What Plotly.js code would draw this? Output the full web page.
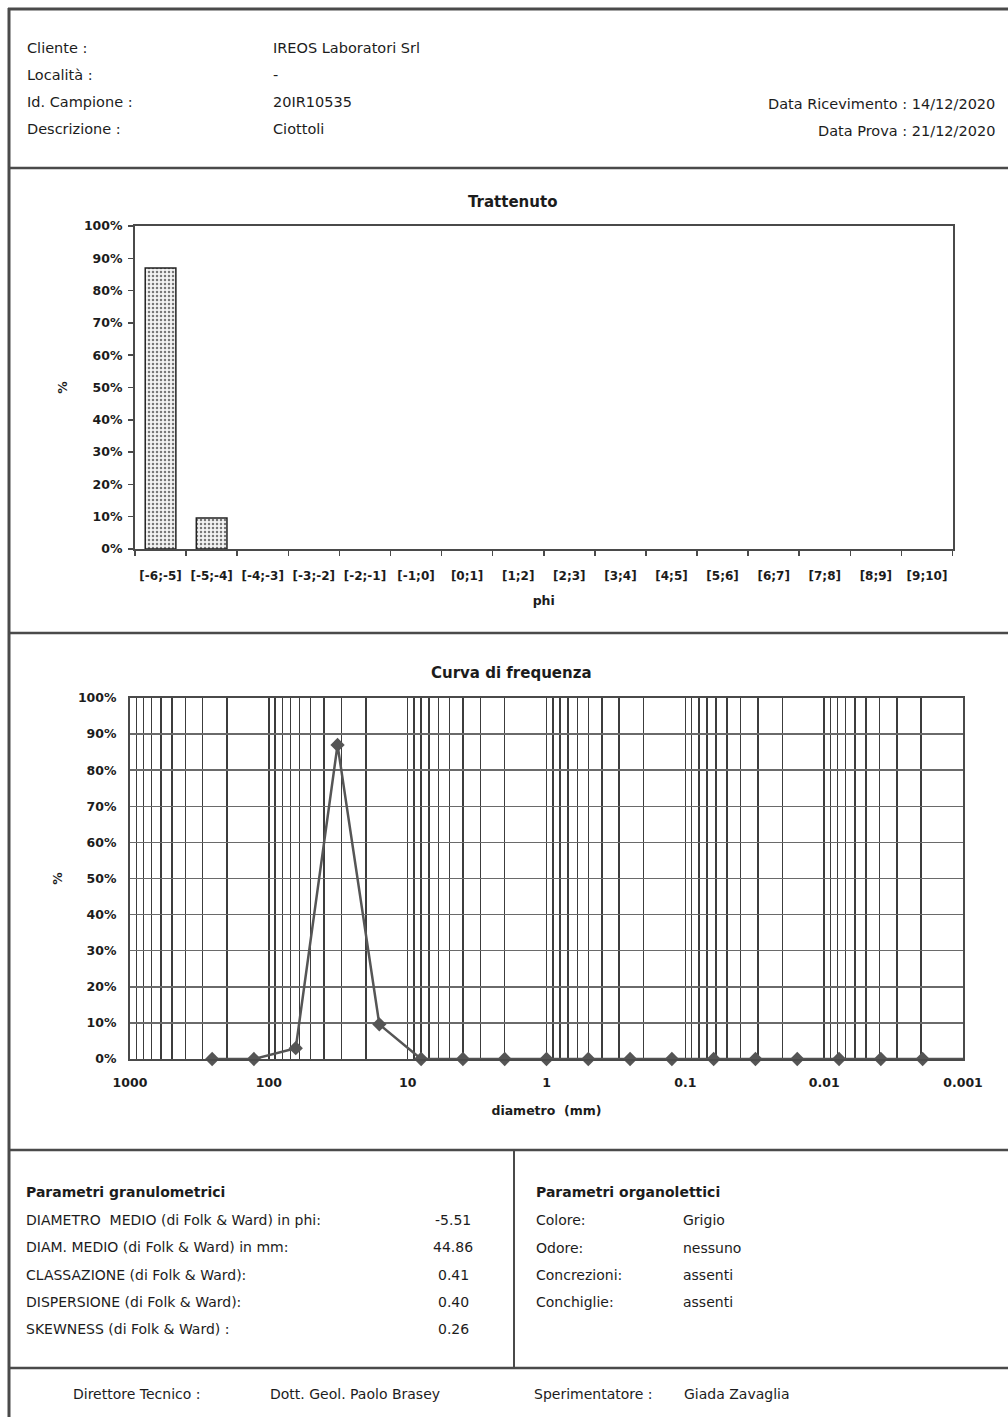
<!DOCTYPE html>
<html>
<head>
<meta charset="utf-8">
<script src="https://cdn.plot.ly/plotly-3.0.1.min.js"></script>
<style>
html,body{margin:0;padding:0;background:#fff;}
#chart{width:1008px;height:1417px;}
</style>
</head>
<body>
<div id="chart"></div>
<script>
// ---- data ----
const phiClasses = ['[-6;-5]','[-5;-4]','[-4;-3]','[-3;-2]','[-2;-1]','[-1;0]','[0;1]','[1;2]','[2;3]','[3;4]','[4;5]','[5;6]','[6;7]','[7;8]','[8;9]','[9;10]'];
const trattenuto = [87, 9.6, 0, 0, 0, 0, 0, 0, 0, 0, 0, 0, 0, 0, 0, 0];

const diametroMm = [256, 128, 64, 32, 16, 8, 4, 2, 1, 0.5, 0.25, 0.125, 0.0625, 0.03125, 0.015625, 0.0078125, 0.00390625, 0.001953125, 0.0009765625];
const frequenza = [0, 0, 3, 87, 9.6, 0, 0, 0, 0, 0, 0, 0, 0, 0, 0, 0, 0, 0, 0];

const pctTicks = [0, 10, 20, 30, 40, 50, 60, 70, 80, 90, 100];
const pctLabels = ['0%', '10%', '20%', '30%', '40%', '50%', '60%', '70%', '80%', '90%', '100%'];

const headerLabels = ['Cliente :', 'Località :', 'Id. Campione :', 'Descrizione :'];
const headerValues = ['IREOS Laboratori Srl', '-', '20IR10535', 'Ciottoli'];
const headerDates = ['Data Ricevimento : 14/12/2020', 'Data Prova : 21/12/2020'];

const granuloLabels = ['DIAMETRO  MEDIO (di Folk & Ward) in phi:', 'DIAM. MEDIO (di Folk & Ward) in mm:', 'CLASSAZIONE (di Folk & Ward):', 'DISPERSIONE (di Folk & Ward):', 'SKEWNESS (di Folk & Ward) :'];
const granuloValues = ['-5.51', '44.86', '0.41', '0.40', '0.26'];
const organoLabels = ['Colore:', 'Odore:', 'Concrezioni:', 'Conchiglie:'];
const organoValues = ['Grigio', 'nessuno', 'assenti', 'assenti'];
const footer = ['Direttore Tecnico :', 'Dott. Geol. Paolo Brasey', 'Sperimentatore :', 'Giada Zavaglia'];

// ---- layout helpers (pixel -> paper) ----
const W = 1008, H = 1417;
const px = x => x / W;
const py = y => 1 - y / H;
const FONT = 'DejaVu Sans, Liberation Sans, Arial, sans-serif';
const TXT = '#1c1c1c';
const LINE = '#4a4a4a';

function txt(text, x, y, opts) {
  opts = opts || {};
  return Object.assign({
    text: text, x: px(x), y: py(y), xref: 'paper', yref: 'paper',
    xanchor: 'left', yanchor: 'middle', showarrow: false,
    font: {family: FONT, size: 14.5, color: TXT}
  }, opts);
}
const bodyFont = {family: FONT, size: 14, color: TXT};

const annotations = [];
const rowsY = [48, 75, 102, 129];
headerLabels.forEach((t, i) => annotations.push(txt(t, 25, rowsY[i])));
headerValues.forEach((t, i) => annotations.push(txt(t, 271, rowsY[i])));
annotations.push(txt(headerDates[0], 997, 104, {xanchor: 'right'}));
annotations.push(txt(headerDates[1], 997, 131, {xanchor: 'right'}));

annotations.push(txt('<b>Trattenuto</b>', 512, 202, {xanchor: 'center', font: {family: FONT, size: 15, color: TXT}}));
annotations.push(txt('<b>Curva di frequenza</b>', 511, 673, {xanchor: 'center', font: {family: FONT, size: 15, color: TXT}}));

annotations.push(txt('<b>Parametri granulometrici</b>', 24, 1192, {font: bodyFont}));
const gY = [1220, 1247, 1275, 1302, 1329];
granuloLabels.forEach((t, i) => annotations.push(txt(t, 24, gY[i], {font: bodyFont})));
granuloValues.forEach((t, i) => annotations.push(txt(t, 453, gY[i], {xanchor: 'center', font: bodyFont})));
annotations.push(txt('<b>Parametri organolettici</b>', 534, 1192, {font: bodyFont}));
const oY = [1220, 1248, 1275, 1302];
organoLabels.forEach((t, i) => annotations.push(txt(t, 534, oY[i], {font: bodyFont})));
organoValues.forEach((t, i) => annotations.push(txt(t, 681, oY[i], {font: bodyFont})));
const fX = [71, 268, 532, 682];
footer.forEach((t, i) => annotations.push(txt(t, fX[i], 1394, {font: bodyFont})));

function hline(y, x0, x1, w) {
  return {type: 'line', xref: 'paper', yref: 'paper', x0: px(x0), x1: px(x1), y0: py(y), y1: py(y), line: {color: LINE, width: w}};
}
function vline(x, y0, y1, w) {
  return {type: 'line', xref: 'paper', yref: 'paper', x0: px(x), x1: px(x), y0: py(y0), y1: py(y1), line: {color: LINE, width: w}};
}
const shapes = [
  hline(9, 8, 1008, 3),
  vline(9, 8, 1417, 3),
  hline(168, 8, 1008, 2.5),
  hline(633, 8, 1008, 2.5),
  hline(1150, 8, 1008, 2.5),
  hline(1368, 8, 1008, 2.5),
  vline(514, 1150, 1368, 2)
];

const tickFont = {family: FONT, size: 12.5, color: TXT, weight: 'bold'};
const xTickFont = {family: FONT, size: 12, color: TXT, weight: 'bold'};
const axTitleFont = {family: FONT, size: 12.5, color: TXT, weight: 'bold'};

const data = [
  {
    type: 'bar', x: phiClasses, y: trattenuto, xaxis: 'x', yaxis: 'y',
    marker: {
      color: '#f2f2f2',
      line: {color: '#222', width: trattenuto.map(v => v > 0 ? 1.5 : 0)},
      pattern: {shape: '.', fgcolor: '#777', bgcolor: '#f3f3f3', size: 4, solidity: 0.3}
    },
    hoverinfo: 'x+y'
  },
  {
    type: 'scatter', mode: 'lines+markers', x: diametroMm, y: frequenza, xaxis: 'x2', yaxis: 'y2',
    line: {color: '#555', width: 2.5},
    marker: {symbol: 'diamond', size: 11, color: '#555'},
    cliponaxis: false
  }
];

const layout = {
  width: W, height: H,
  margin: {l: 0, r: 0, t: 0, b: 0},
  paper_bgcolor: '#fff', plot_bgcolor: '#fff',
  showlegend: false,
  bargap: 0.4,
  font: {family: FONT, color: TXT},
  xaxis: {
    domain: [px(135), px(952.5)],
    anchor: 'y', type: 'category', tickangle: 0,
    showline: true, mirror: true, linecolor: LINE, linewidth: 2,
    ticks: 'outside', tickson: 'boundaries', ticklen: 5, tickcolor: LINE, tickwidth: 1.5,
    ticklabelstandoff: 15,
    showgrid: false, tickfont: xTickFont,
    title: {text: 'phi', font: axTitleFont, standoff: 14}
  },
  yaxis: {
    domain: [py(549), py(226)],
    anchor: 'x', range: [0, 100], tickmode: 'array', tickvals: pctTicks, ticktext: pctLabels,
    showline: true, mirror: true, linecolor: LINE, linewidth: 2,
    ticks: 'outside', ticklen: 5, tickcolor: LINE, tickwidth: 1.5,
    ticklabelstandoff: 3,
    showgrid: false, zeroline: false, tickfont: tickFont,
    title: {text: '%', font: axTitleFont, standoff: 14}
  },
  xaxis2: {
    domain: [px(130), px(963)],
    anchor: 'y2', type: 'log', range: [3, -3], dtick: 1, tickformat: '~g',
    showline: true, mirror: true, linecolor: LINE, linewidth: 2,
    ticks: '', showgrid: true, gridcolor: '#3c3c3c', gridwidth: 1.5,
    minor: {dtick: 'D1', showgrid: true, gridcolor: '#3c3c3c', gridwidth: 1.5, ticks: ''},
    ticklabelstandoff: 11,
    tickfont: tickFont,
    title: {text: 'diametro  (mm)', font: axTitleFont, standoff: 17}
  },
  yaxis2: {
    domain: [py(1059), py(698)],
    anchor: 'x2', range: [0, 100], tickmode: 'array', tickvals: pctTicks, ticktext: pctLabels,
    showline: true, mirror: true, linecolor: LINE, linewidth: 2,
    ticks: '', showgrid: true, gridcolor: '#6a6a6a', gridwidth: 1.5, zeroline: false,
    ticklabelstandoff: 9,
    tickfont: tickFont,
    title: {text: '%', font: axTitleFont, standoff: 13}
  },
  annotations: annotations,
  shapes: shapes
};

Plotly.newPlot('chart', data, layout, {displayModeBar: false, staticPlot: true});
</script>
</body>
</html>
